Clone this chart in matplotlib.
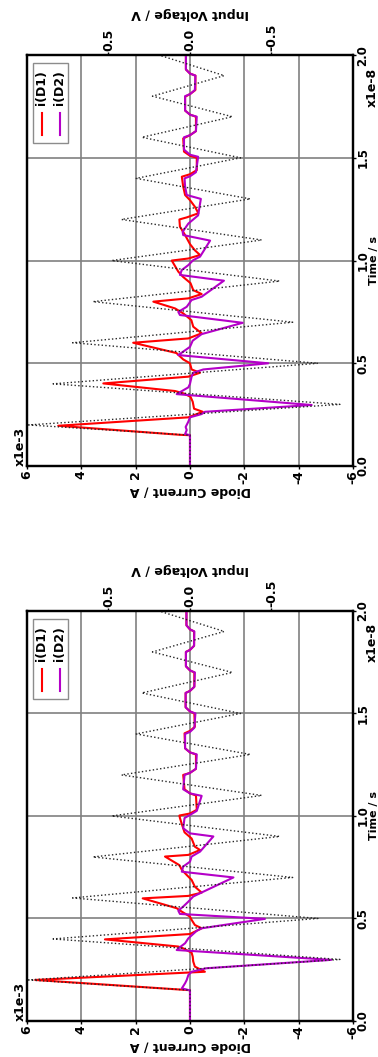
import numpy as np
import matplotlib
matplotlib.use("Agg")
import matplotlib.pyplot as plt
from matplotlib.patches import Rectangle

plt.rcParams['font.family'] = ['DejaVu Sans']
plt.rcParams['font.weight'] = 'bold'
FS = 9.0

RED = '#ff0000'
PURPLE = '#b400c8'

# input voltage (triangle ringing), time in ns, volts
volt_t = [0, 1.5, 2, 3, 4, 5, 6, 7, 8, 9, 10, 11, 12, 13, 14, 15, 16, 17, 18, 19, 20]
volt_v = [0, 0, 0.99, -0.92, 0.84, -0.785, 0.72, -0.63, 0.595, -0.55, 0.48, -0.44,
          0.42, -0.37, 0.33, -0.31, 0.295, -0.26, 0.23, -0.21, 0.19]

# diode currents (t in ns, i in mA), upper panel
top_d1 = [(0, 0), (1.50, 0), (1.52, 0.37), (1.96, 4.85), (2.37, 0.06), (2.64, -0.47),
          (2.79, -0.15), (3.13, -0.10), (3.37, -0.02), (3.54, 0.25), (3.65, 0.55),
          (4.02, 3.19), (4.35, 0.06), (4.54, -0.37), (4.70, -0.06), (5.00, 0.00),
          (5.19, 0.25), (5.50, 0.50), (6.00, 2.09), (6.21, 0.06), (6.46, -0.43),
          (6.78, -0.12), (7.10, -0.05), (7.43, 0.25), (7.67, 0.55), (8.00, 1.35),
          (8.16, 0.06), (8.37, -0.43), (8.56, -0.12), (8.90, -0.02), (9.20, 0.25),
          (9.46, 0.43), (10.00, 0.67), (10.10, 0.06), (10.27, -0.37), (10.50, -0.18),
          (10.80, 0.00), (11.24, 0.18), (11.65, 0.37), (12.00, 0.39), (12.10, 0.12),
          (12.30, -0.31), (12.62, -0.18), (12.94, 0.00), (13.19, 0.18), (13.60, 0.25),
          (14.08, 0.30), (14.20, 0.00), (14.40, -0.25), (15.00, -0.25), (15.10, 0.00),
          (15.30, 0.22), (15.94, 0.25), (16.10, 0.00), (16.30, -0.22), (17.00, -0.22),
          (17.10, 0.00), (17.30, 0.18), (17.97, 0.18), (18.10, 0.00), (18.30, -0.20),
          (19.00, -0.20), (19.10, 0.00), (19.30, 0.15), (20.00, 0.15)]
top_d2 = [(0, 0), (1.50, 0), (1.56, 0.18), (1.75, 0.12), (1.90, 0.16), (2.16, 0.06),
          (2.37, 0.00), (2.53, -0.43), (2.64, -0.55), (2.97, -4.48), (3.50, 0.49),
          (3.83, 0.06), (4.00, 0.00), (4.35, -0.06), (4.54, -0.12), (4.70, -0.49),
          (5.00, -2.88), (5.40, 0.43), (5.80, 0.00), (6.10, -0.10), (6.42, -0.43),
          (6.97, -1.94), (7.35, 0.37), (7.50, 0.43), (7.75, 0.12), (8.08, -0.06),
          (8.24, -0.43), (9.02, -1.25), (9.30, 0.37), (9.54, 0.30), (9.78, 0.06),
          (10.02, -0.12), (10.19, -0.37), (10.97, -0.74), (11.24, 0.25), (11.40, 0.27),
          (11.80, 0.06), (12.00, -0.12), (12.20, -0.30), (13.00, -0.40), (13.19, 0.12),
          (13.60, 0.18), (14.00, 0.20), (14.10, 0.00), (14.30, -0.22), (15.05, -0.30),
          (15.15, 0.00), (15.40, 0.22), (16.00, 0.22), (16.10, 0.00), (16.30, -0.22),
          (17.00, -0.25), (17.10, 0.00), (17.30, 0.18), (18.00, 0.18), (18.10, 0.00),
          (18.30, -0.18), (19.00, -0.20), (19.10, 0.00), (19.30, 0.15), (20.00, 0.15)]

# lower panel
bot_d1 = [(0, 0), (1.50, 0), (1.51, 0.12), (2.00, 5.70), (2.40, -0.55), (2.65, -0.18),
          (2.90, -0.12), (3.14, -0.10), (3.33, -0.06), (3.54, 0.25), (3.63, 0.43),
          (3.98, 3.13), (4.24, 0.00), (4.52, -0.43), (4.68, -0.18), (4.93, -0.06),
          (5.09, 0.00), (5.33, 0.30), (5.50, 0.49), (5.98, 1.74), (6.10, 0.06),
          (6.26, -0.43), (6.55, -0.18), (6.88, -0.06), (7.12, 0.12), (7.37, 0.30),
          (7.60, 0.39), (8.02, 0.92), (8.10, 0.06), (8.34, -0.37), (8.50, -0.18),
          (8.90, -0.06), (9.20, 0.20), (9.60, 0.30), (9.90, 0.37), (10.02, 0.39),
          (10.12, 0.00), (10.30, -0.25), (11.00, -0.22), (11.10, 0.00), (11.30, 0.20),
          (12.00, 0.25), (12.10, 0.00), (12.30, -0.22), (13.00, -0.22), (13.10, 0.00),
          (13.30, 0.18), (14.03, 0.20), (14.15, 0.00), (14.35, -0.18), (15.00, -0.16),
          (15.10, 0.00), (15.30, 0.16), (16.00, 0.16), (16.10, 0.00), (16.30, -0.16),
          (17.00, -0.16), (17.10, 0.00), (17.30, 0.15), (18.00, 0.15), (18.10, 0.00),
          (18.30, -0.15), (19.00, -0.15), (19.10, 0.00), (19.30, 0.13), (20.00, 0.13)]
bot_d2 = [(0, 0), (1.50, 0), (1.51, 0.06), (1.59, 0.30), (1.84, 0.18), (2.00, 0.12),
          (2.24, 0.06), (2.40, -0.06), (2.57, -0.60), (2.98, -5.20), (3.46, 0.49),
          (3.60, 0.37), (3.79, 0.18), (4.03, 0.06), (4.40, -0.25), (4.52, -0.43),
          (4.98, -2.76), (5.22, 0.37), (5.38, 0.43), (5.58, 0.25), (5.82, 0.06),
          (6.07, -0.12), (6.23, -0.37), (7.00, -1.60), (7.28, 0.30), (7.53, 0.25),
          (7.77, 0.00), (8.02, -0.06), (8.26, -0.37), (9.00, -0.86), (9.15, 0.00),
          (9.40, 0.25), (9.90, 0.20), (10.05, 0.00), (10.25, -0.25), (10.98, -0.43),
          (11.10, 0.00), (11.30, 0.25), (12.00, 0.20), (12.10, 0.00), (12.30, -0.22),
          (13.00, -0.25), (13.10, 0.00), (13.30, 0.18), (14.00, 0.18), (14.10, 0.00),
          (14.30, -0.16), (15.00, -0.20), (15.10, 0.00), (15.30, 0.16), (16.00, 0.16),
          (16.10, 0.00), (16.30, -0.16), (17.00, -0.18), (17.10, 0.00), (17.30, 0.15),
          (18.00, 0.15), (18.10, 0.00), (18.30, -0.15), (19.00, -0.16), (19.10, 0.00),
          (19.30, 0.13), (20.00, 0.13)]

current_ticks = [6, 4, 2, 0, -2, -4, -6]        # x1e-3 A
time_ticks = [0.0, 0.5, 1.0, 1.5, 2.0]          # x1e-8 s
volt_ticks = [0.5, 0.0, -0.5]
labels = ['i(D1)', 'i(D2)']


def draw_panel(fig, rect, d1, d2):
    ax = fig.add_axes(rect)
    t1, i1 = np.array(d1).T
    t2, i2 = np.array(d2).T
    ax.plot(i1 * 1e-3, t1 * 1e-9, color=RED, lw=1.5, zorder=3)
    ax.plot(i2 * 1e-3, t2 * 1e-9, color=PURPLE, lw=1.5, zorder=3)

    ax.set_xlim(6e-3, -6e-3)
    ax.set_ylim(0, 2e-8)
    ax.set_xticks(np.array(current_ticks) * 1e-3)
    ax.set_xticklabels([str(c) for c in current_ticks], rotation=90, fontsize=FS)
    ax.yaxis.tick_right()
    ax.set_yticks(np.array(time_ticks) * 1e-8)
    ax.set_yticklabels(["%.1f" % t for t in time_ticks], rotation=90, va='center', fontsize=8.5)
    ax.tick_params(length=2, width=1, pad=1)
    ax.tick_params(axis='y', pad=0.5)
    ax.grid(True, color='0.5', lw=1.2)
    for s in ax.spines.values():
        s.set_linewidth(1.6)

    # input voltage on the twin axis (top)
    ax2 = ax.twiny()
    ax2.plot(volt_v, np.array(volt_t) * 1e-9, ls=':', color='0.15', lw=1.0)
    ax2.set_xlim(1.0, -1.0)
    ax2.set_xticks(volt_ticks)
    ax2.set_xticklabels(["%.1f" % v for v in volt_ticks], rotation=90, fontsize=FS)
    ax2.tick_params(length=2, width=1, pad=1)
    for s in ax2.spines.values():
        s.set_linewidth(1.6)

    # axis labels / offsets (rotated page)
    ax.text(0.5, -0.06, 'Diode Current / A', transform=ax.transAxes, rotation=180,
            ha='center', va='center', fontsize=FS, fontweight='bold')
    ax.text(0.5, 1.10, 'Input Voltage / V', transform=ax.transAxes, rotation=180,
            ha='center', va='center', fontsize=FS, fontweight='bold')
    ax.text(1.0645, 0.5, 'Time / s', transform=ax.transAxes, rotation=90,
            ha='center', va='center', fontsize=8, fontweight='bold')
    ax.text(-0.02, 0.0, 'x1e-3', transform=ax.transAxes, rotation=90,
            ha='center', va='bottom', fontsize=FS, fontweight='bold')
    ax.text(1.058, 0.97, 'x1e-8', transform=ax.transAxes, rotation=90,
            ha='center', va='top', fontsize=FS, fontweight='bold')

    # legend box
    ax2.add_patch(Rectangle((0.018, 0.786), 0.108, 0.195, transform=ax.transAxes,
                            fc='white', ec='0.55', lw=1.0, zorder=10))
    for xk, col, lab in zip([0.046, 0.101], [RED, PURPLE], labels):
        ax2.plot([xk, xk], [0.805, 0.859], color=col, lw=1.5, transform=ax.transAxes,
                 zorder=11)
        ax2.text(xk, 0.878, lab, transform=ax.transAxes, rotation=90, ha='center',
                 va='bottom', fontsize=FS, fontweight='bold', zorder=11)
    return ax


fig = plt.figure(figsize=(3.78, 10.57), dpi=100)
draw_panel(fig, [0.0714, 0.5591, 0.8624, 0.3888], top_d1, top_d2)
draw_panel(fig, [0.0714, 0.0341, 0.8624, 0.3879], bot_d1, bot_d2)
fig.savefig('out.png', dpi=100)
